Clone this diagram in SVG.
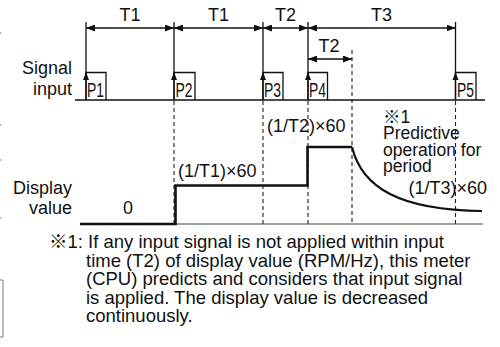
<svg xmlns="http://www.w3.org/2000/svg" width="500" height="347" viewBox="0 0 500 347">
<style>
text{font-family:"Liberation Sans","Noto Sans CJK JP",Arial,sans-serif;fill:#111}
.lbl{font-size:18px}
.note{font-size:17.5px}
.ft{font-size:18.5px}
.pl{font-size:20px}
.sl{stroke:#111;stroke-width:1.3;fill:none}
.dim{stroke:#111;stroke-width:1.3;fill:none;marker-start:url(#ah);marker-end:url(#ah)}
.dash{stroke:#222;stroke-width:1.1;stroke-dasharray:4 3;fill:none}
.thick{stroke:#111;stroke-width:2.6;fill:none}
</style>
<defs>
<marker id="ah" viewBox="0 0 10 10" refX="10" refY="5" markerWidth="9" markerHeight="7" markerUnits="userSpaceOnUse" orient="auto-start-reverse" preserveAspectRatio="none">
<path d="M0,0 L10,5 L0,10 z" fill="#111"/>
</marker>
<path id="up" d="M-3,8 L0,0 L3,8 z" fill="#111"/>
</defs>
<rect width="500" height="347" fill="#fff"/>
<g id="edge-marks" stroke="#777" stroke-width="1" fill="none">
<path d="M0,280 H3 V337 H0"/>
<path d="M0,33 H1.5 M0,125 H1.5 M0,160 H1.5 M0,218 H1.5"/>
</g>
<g id="connectors">
<g id="dimensions">
<path class="dim" d="M86,28 H174"/>
<path class="dim" d="M174,28 H263"/>
<path class="dim" d="M263,28 H308"/>
<path class="dim" d="M308,28 H455.5"/>
<path class="dim" d="M308,59 H352"/>
</g>
<g id="guides">
<path class="sl" d="M86,22 V100 M174,22 V100 M263,22 V100 M308,22 V100 M455.5,22 V100"/>
<path class="dash" d="M174,101 V224 M263,101 V224 M308,101 V224 M352,50 V224 M455.5,101 V224"/>
</g>
</g>
<g id="signal">
<path stroke="#111" stroke-width="1.5" fill="none" d="M75,100 H485"/>
<g id="p1"><path class="sl" d="M86,100 V72.5 H106 V100"/><use href="#up" x="86" y="72"/><text class="pl" x="87" y="96.5" textLength="17" lengthAdjust="spacingAndGlyphs">P1</text></g>
<g id="p2"><path class="sl" d="M174,100 V72.5 H195 V100"/><use href="#up" x="174" y="72"/><text class="pl" x="175.5" y="96.5" textLength="17" lengthAdjust="spacingAndGlyphs">P2</text></g>
<g id="p3"><path class="sl" d="M263,100 V72.5 H283 V100"/><use href="#up" x="263" y="72"/><text class="pl" x="264" y="96.5" textLength="17" lengthAdjust="spacingAndGlyphs">P3</text></g>
<g id="p4"><path class="sl" d="M308,100 V72.5 H327.5 V100"/><use href="#up" x="308" y="72"/><text class="pl" x="309" y="96.5" textLength="17" lengthAdjust="spacingAndGlyphs">P4</text></g>
<g id="p5"><path class="sl" d="M455.5,100 V72.5 H476 V100"/><use href="#up" x="455.5" y="72"/><text class="pl" x="457" y="96.5" textLength="17" lengthAdjust="spacingAndGlyphs">P5</text></g>
</g>
<g id="display">
<path stroke="#444" stroke-width="1" fill="none" d="M80,224 H483"/>
<path class="thick" d="M80,224 H175.5 V185.5 H307.5 V147 H352"/>
<path stroke="#111" stroke-width="2.2" fill="none" d="M352,147 C362,188 400,210 482,211"/>
</g>
<g id="labels">
<text class="lbl" x="130" y="21" text-anchor="middle">T1</text>
<text class="lbl" x="218.5" y="21" text-anchor="middle">T1</text>
<text class="lbl" x="285.5" y="21" text-anchor="middle">T2</text>
<text class="lbl" x="381.5" y="21" text-anchor="middle">T3</text>
<text class="lbl" x="329" y="52" text-anchor="middle">T2</text>
<text class="lbl" x="72" y="74" text-anchor="end">Signal</text>
<text class="lbl" x="72" y="95" text-anchor="end">input</text>
<text class="lbl" x="72" y="194" text-anchor="end">Display</text>
<text class="lbl" x="72" y="214" text-anchor="end">value</text>
<text class="lbl" x="128" y="214" text-anchor="middle">0</text>
<text class="lbl" x="178" y="177">(1/T1)×60</text>
<text class="lbl" x="267" y="132">(1/T2)×60</text>
<text class="note" x="383" y="123">※1</text>
<text class="note" x="383" y="139">Predictive</text>
<text class="note" x="383" y="156">operation for</text>
<text class="note" x="383" y="172">period</text>
<text class="lbl" x="487" y="194" text-anchor="end">(1/T3)×60</text>
</g>
<g id="footnote">
<text class="ft" x="49" y="248">※1: If any input signal is not applied within input</text>
<text class="ft" x="86" y="266.5">time (T2) of display value (RPM/Hz), this meter</text>
<text class="ft" x="86" y="285">(CPU) predicts and considers that input signal</text>
<text class="ft" x="86" y="303.5">is applied. The display value is decreased</text>
<text class="ft" x="86" y="322">continuously.</text>
</g>
</svg>
